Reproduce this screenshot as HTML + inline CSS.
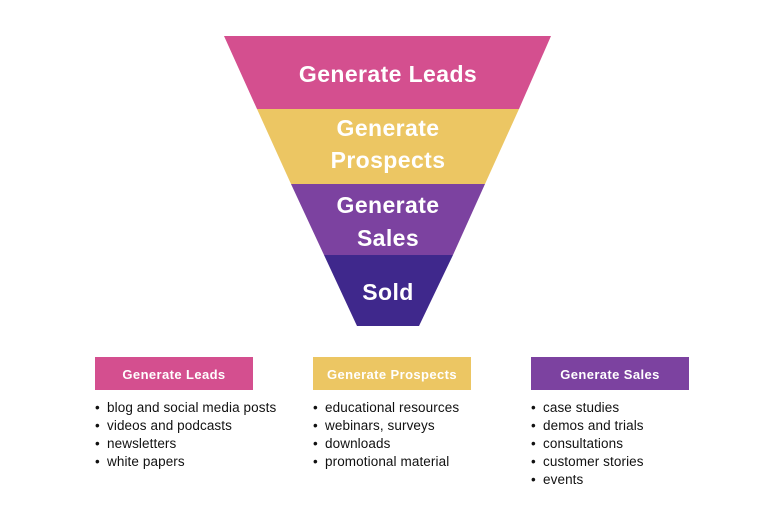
<!DOCTYPE html>
<html><head><style>
body{margin:0;width:776px;height:517px;background:#fff;position:relative;font-family:"Liberation Sans",sans-serif;overflow:hidden}
.t{position:absolute;left:0;width:776px;text-align:center;color:#fff;font-weight:bold;font-size:23px;letter-spacing:0.4px;line-height:32px}
.box{position:absolute;top:357px;width:158px;height:33px;color:#fff;font-weight:bold;font-size:13px;letter-spacing:0.4px;line-height:36px;text-align:center}
ul{position:absolute;top:399px;margin:0;padding:0;list-style:none;font-size:13.5px;letter-spacing:0.1px;line-height:18px;color:#111}
li{padding-left:12px;position:relative}
li:before{content:"•";position:absolute;left:0}
</style></head><body>
<svg width="776" height="517" style="position:absolute;left:0;top:0">
<polygon points="224,36 551,36 519,109 257,109" fill="#d44f8f"/>
<polygon points="257,109 519,109 485,184 291,184" fill="#ecc663"/>
<polygon points="291,184 485,184 453,255 324,255" fill="#7c42a0"/>
<polygon points="324,255 453,255 419,326 357,326" fill="#3f288c"/>
</svg>
<div class="t" style="top:58px">Generate Leads</div>
<div class="t" style="top:112px">Generate</div>
<div class="t" style="top:144px">Prospects</div>
<div class="t" style="top:189px">Generate</div>
<div class="t" style="top:222px">Sales</div>
<div class="t" style="top:276px">Sold</div>
<div class="box" style="left:95px;background:#d44f8f">Generate Leads</div>
<div class="box" style="left:313px;background:#ecc663">Generate Prospects</div>
<div class="box" style="left:531px;background:#7c42a0">Generate Sales</div>
<ul style="left:95px"><li>blog and social media posts</li><li>videos and podcasts</li><li>newsletters</li><li>white papers</li></ul>
<ul style="left:313px"><li>educational resources</li><li>webinars, surveys</li><li>downloads</li><li>promotional material</li></ul>
<ul style="left:531px"><li>case studies</li><li>demos and trials</li><li>consultations</li><li>customer stories</li><li>events</li></ul>
</body></html>
